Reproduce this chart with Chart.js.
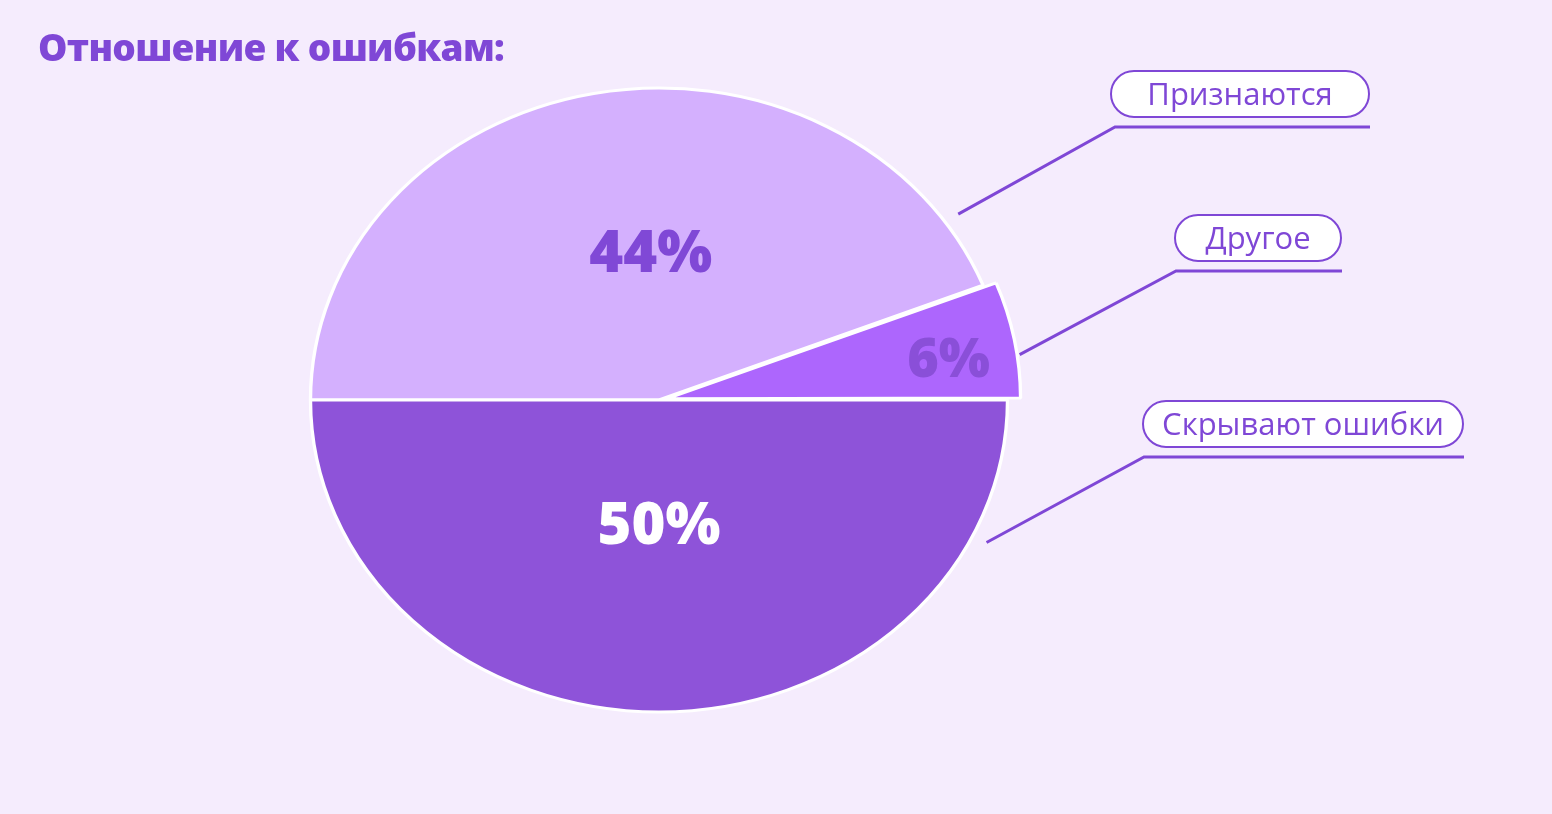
<!DOCTYPE html>
<html lang="ru">
<head>
<meta charset="utf-8">
<script src="https://cdn.jsdelivr.net/npm/chart.js@4.4.1/dist/chart.umd.min.js"></script>
<style>
  html, body { margin: 0; padding: 0; background: #f5ecfd; }
  .wrap { position: relative; width: 1552px; height: 814px; }
  .title {
    position: absolute; left: 38px; top: 21px; margin: 0;
    font: 800 37px 'Open Sans', sans-serif; color: #7f47d6; letter-spacing: -0.7px;
  }
</style>
</head>
<body>
<div class="wrap">
  <h1 class="title">Отношение к ошибкам:</h1>
  <canvas id="pieChart" width="1552" height="814"></canvas>
</div>
<script>
// data
const labels = ['Признаются', 'Другое', 'Скрывают ошибки']
const shares = [44, 6, 50]

// colours
const sliceColors = ['#d4b0fe', '#ad66fd', '#8e53d9']
const percentColors = ['#8048d6', '#8a4fd8', '#ffffff']
const accent = '#7f47d6'

// layout for the labels and callouts
const stretchX = 1.117              // pie is drawn as an ellipse
const percentAt = [[0.55, 0.465], [0.61, 0.84], [0.5, 0.41]]   // [position along arc, radius fraction]
const calloutAt = [0.917, 0.63, 0.144]
const pillLeft = [1111, 1175, 1143]
const pillTop = [71, 215, 401]
const pillWidth = [258, 166, 320]
const elbowInset = [4, 1, 1]
const pillHeight = 46

const pointOnArc = (arc, t, rFrac) => {
  const a = arc.startAngle + (arc.endAngle - arc.startAngle) * t
  const r = arc.outerRadius * rFrac
  return { x: arc.x + Math.cos(a) * r * stretchX, y: arc.y + Math.sin(a) * r }
}

// stretch the pie horizontally, then draw the percentages on top
const ellipsePie = {
  id: 'ellipsePie',
  beforeDatasetsDraw(chart) {
    const { ctx } = chart
    const cx = chart.getDatasetMeta(0).data[0].x
    ctx.save()
    ctx.translate(cx, 0)
    ctx.scale(stretchX, 1)
    ctx.translate(-cx, 0)
  },
  afterDatasetsDraw(chart) {
    const { ctx } = chart
    ctx.restore()
    ctx.save()
    ctx.textAlign = 'center'
    ctx.textBaseline = 'middle'
    chart.getDatasetMeta(0).data.forEach((arc, i) => {
      const p = pointOnArc(arc, percentAt[i][0], percentAt[i][1])
      ctx.font = (i === 1 ? '800 54px' : '800 58px') + ' "Open Sans", sans-serif'
      ctx.fillStyle = percentColors[i]
      ctx.fillText(shares[i] + '%', p.x, p.y)
    })
    ctx.restore()
  },
}

// pills with the category names and lines to the slices
const callouts = {
  id: 'callouts',
  afterDraw(chart) {
    const { ctx } = chart
    ctx.save()
    chart.getDatasetMeta(0).data.forEach((arc, i) => {
      const x = pillLeft[i]
      const y = pillTop[i]
      const w = pillWidth[i]

      ctx.beginPath()
      ctx.roundRect(x, y, w, pillHeight, pillHeight / 2)
      ctx.fillStyle = '#ffffff'
      ctx.fill()
      ctx.lineWidth = 2
      ctx.strokeStyle = accent
      ctx.stroke()

      ctx.font = '400 31px "Open Sans", sans-serif'
      ctx.fillStyle = accent
      ctx.textAlign = 'center'
      ctx.textBaseline = 'middle'
      ctx.fillText(labels[i], x + w / 2, y + pillHeight / 2 + 2)

      const start = pointOnArc(arc, calloutAt[i], 1.045)
      const elbowY = y + pillHeight + 10
      ctx.beginPath()
      ctx.moveTo(start.x, start.y)
      ctx.lineTo(x + elbowInset[i], elbowY)
      ctx.lineTo(x + w + 1, elbowY)
      ctx.lineWidth = 3
      ctx.stroke()
    })
    ctx.restore()
  },
}

new Chart(document.getElementById('pieChart'), {
  type: 'pie',
  data: {
    labels: labels,
    datasets: [
      {
        data: shares,
        backgroundColor: sliceColors,
        borderColor: '#ffffff',
        borderWidth: 3,
        offset: [0, 29, 0],
        hoverOffset: 0,
      },
    ],
  },
  options: {
    responsive: false,
    animation: false,
    events: [],
    rotation: -90,
    radius: 312,
    layout: { padding: { left: 0, right: 234, top: 0, bottom: 14 } },
    plugins: {
      legend: { display: false },
      tooltip: { enabled: false },
    },
  },
  plugins: [ellipsePie, callouts],
})
</script>
</body>
</html>
